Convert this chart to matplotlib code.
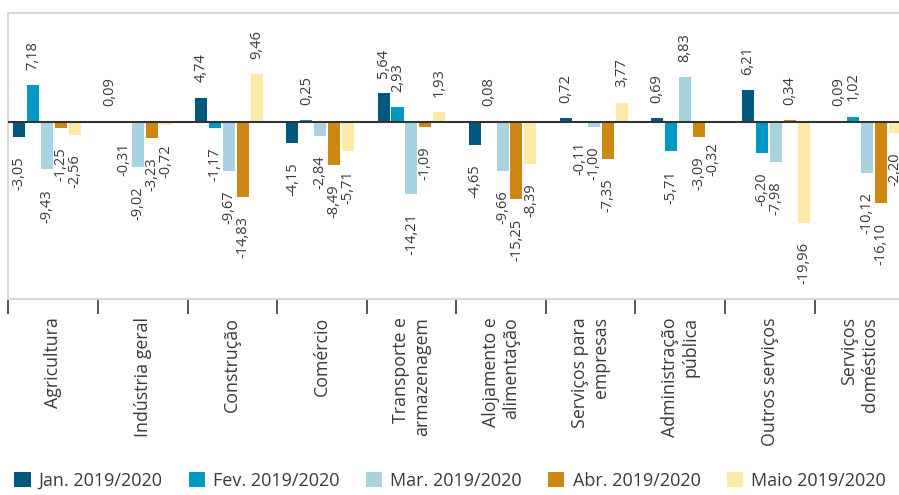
import numpy as np
import matplotlib
matplotlib.use("Agg")
import matplotlib.pyplot as plt
from matplotlib.patches import Patch

plt.rcParams['font.family'] = ['Open Sans', 'DejaVu Sans']

# Data
categories = ['Agricultura', 'Indústria geral', 'Construção', 'Comércio',
              'Transporte e\narmazenagem', 'Alojamento e\nalimentação',
              'Serviços para\nempresas', 'Administração\npública',
              'Outros serviços', 'Serviços\ndomésticos']
series_names = ['Jan. 2019/2020', 'Fev. 2019/2020', 'Mar. 2019/2020',
                'Abr. 2019/2020', 'Maio 2019/2020']
jan = [-3.05, 0.09, 4.74, -4.15, 5.64, -4.65, 0.72, 0.69, 6.21, 0.09]
fev = [7.18, -0.31, -1.17, 0.25, 2.93, 0.08, -0.11, -5.71, -6.20, 1.02]
mar = [-9.43, -9.02, -9.67, -2.84, -14.21, -9.66, -1.00, 8.83, -7.98, -10.12]
abr = [-1.25, -3.23, -14.83, -8.49, -1.09, -15.25, -7.35, -3.09, 0.34, -16.10]
maio = [-2.56, -0.72, 9.46, -5.71, 1.93, -8.39, 3.77, -0.32, -19.96, -2.20]
colors = ['#00587c', '#0099c6', '#a9d3e1', '#cd8712', '#feeaa7']

series = [jan, fev, mar, abr, maio]

fig = plt.figure(figsize=(8.99, 4.95), dpi=100)
ax = fig.add_axes([8.3 / 899, 1 - 299 / 495, 896 / 899, (299 - 13.3) / 495])

x = np.arange(len(categories))
step = 0.153
width = 0.132
text_color = '#3a3a3a'

for k, (vals, col) in enumerate(zip(series, colors)):
    xs = x + (k - 2) * step
    ax.bar(xs, vals, width=width, color=col, zorder=2)
    for xi, v in zip(xs, vals):
        lbl = f"{v:.2f}".replace('.', ',')
        if v >= 0:
            ax.annotate(lbl, xy=(xi, v), xytext=(0, 11), textcoords='offset points',
                        rotation=90, ha='center', va='bottom', fontsize=10.5,
                        color=text_color)
        else:
            ax.annotate(lbl, xy=(xi, v), xytext=(0, -14), textcoords='offset points',
                        rotation=90, ha='center', va='top', fontsize=10.5,
                        color=text_color)

ax.axhline(0, color='#333333', lw=1.5, zorder=3)

x0, x1 = -0.425, 9.41
ax.set_xlim(x0, x1)
ax.set_ylim(-35.0, 21.4)

# category boundaries evenly across the axis
bounds = np.linspace(x0, x1, len(categories) + 1)
mids = (bounds[:-1] + bounds[1:]) / 2
ax.set_xticks(bounds)
ax.set_xticklabels([])
ax.tick_params(axis='x', which='major', length=11, width=1.3, color='#4a4a4a')
ax.set_xticks(mids, minor=True)
ax.set_xticklabels(categories, minor=True, rotation=90, fontsize=12.8,
                   color=text_color, ha='center', va='top', multialignment='right')
ax.tick_params(axis='x', which='minor', length=0, pad=13)
ax.set_yticks([])

for s in ax.spines.values():
    s.set_color('#d9d9d9')
    s.set_linewidth(1.5)

handles = [Patch(facecolor=c, edgecolor='none') for c in colors]
fig.legend(handles, series_names, loc='lower left', bbox_to_anchor=(0.008, -0.004),
           ncol=5, frameon=False, fontsize=13, handlelength=0.9, handleheight=0.9,
           handletextpad=0.45, columnspacing=1.45, labelcolor=text_color,
           borderaxespad=0)

fig.savefig('out.png', dpi=100)
